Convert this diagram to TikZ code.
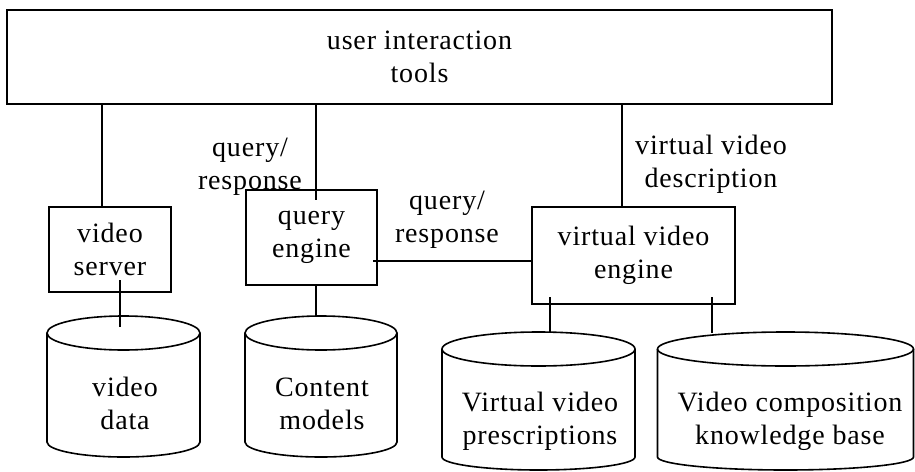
\documentclass[tikz,border=0pt]{standalone}
\usepackage{fontspec}
\setmainfont{Liberation Serif}[LetterSpace=3]
\begin{document}
\begin{tikzpicture}[x=1pt,y=1pt,line width=1.6pt,
  txt/.style={font=\fontsize{28pt}{33pt}\selectfont, align=center, inner sep=0pt},
  box/.style={txt, draw, rectangle},
  wire/.style={draw, line width=1.6pt}]
\useasboundingbox (0,0) rectangle (915,-471);

% boxes
\node[box, minimum width=825pt, minimum height=94pt] (ui) at (419.5,-57) {user interaction\\tools};
\node[box, minimum width=122pt, minimum height=85pt] (vs) at (110,-249.5) {video\\server};
\node[box, minimum width=131pt, minimum height=95pt] (qe) at (311.5,-237.5) {query\\engine};
\node[box, minimum width=203pt, minimum height=97pt] (vve) at (633.5,-255.5) {virtual video\\engine};

% cylinders
\draw (123.5,-333) ellipse [x radius=76.5, y radius=17];
\draw (47,-333) -- (47,-442) arc[start angle=180, end angle=360, x radius=76.5, y radius=15] -- (200,-333);
\draw (321,-333) ellipse [x radius=76, y radius=17];
\draw (245,-333) -- (245,-442) arc[start angle=180, end angle=360, x radius=76, y radius=15] -- (397,-333);
\draw (538.5,-349) ellipse [x radius=96.5, y radius=17];
\draw (442,-349) -- (442,-457) arc[start angle=180, end angle=360, x radius=96.5, y radius=13] -- (635,-349);
\draw (785.5,-349) ellipse [x radius=128, y radius=17];
\draw (657.5,-349) -- (657.5,-457) arc[start angle=180, end angle=360, x radius=128, y radius=13] -- (913.5,-349);

\node[txt] (vd) at (125,-403.5) {video\\data};
\node[txt] (cm) at (322,-403.5) {Content\\models};
\node[txt] (vvp) at (540,-421) {Virtual video\\prescriptions};
\node[txt] (vck) at (790,-421) {Video composition\\knowledge base};

% connector end points
\coordinate (qein) at (316,-200);
\coordinate (vdtop) at (120,-327);
\coordinate (vstop) at (120,-280);
\coordinate (cmtop) at (316,-316);
\coordinate (vvpt) at (550,-333);
\coordinate (vckt) at (712,-333);
\coordinate (vvb1) at (550,-297);
\coordinate (vvb2) at (712,-297);
\coordinate (qeright) at (373,-261);

% connectors
\draw[wire] (ui.south -| vs.north west) ++(54,0) coordinate (u1) -- (u1 |- vs.north);
\draw[wire] (ui.south -| qein) -- (qein);
\draw[wire] (ui.south -| 622,0) -- (vve.north -| 622,0);
\draw[wire] (qeright) -- (qeright -| vve.west);
\draw[wire] (vstop) -- (vdtop);
\draw[wire] (qe.south -| cmtop) -- (cmtop);
\draw[wire] (vvb1) -- (vvpt);
\draw[wire] (vvb2) -- (vckt);

% labels
\node[txt] (l1) at (250,-166.5) {query/\\response};
\node[txt] (l2) at (447,-220) {query/\\response};
\node[txt] (l3) at (711,-164.5) {virtual video\\description};
\end{tikzpicture}
\end{document}
